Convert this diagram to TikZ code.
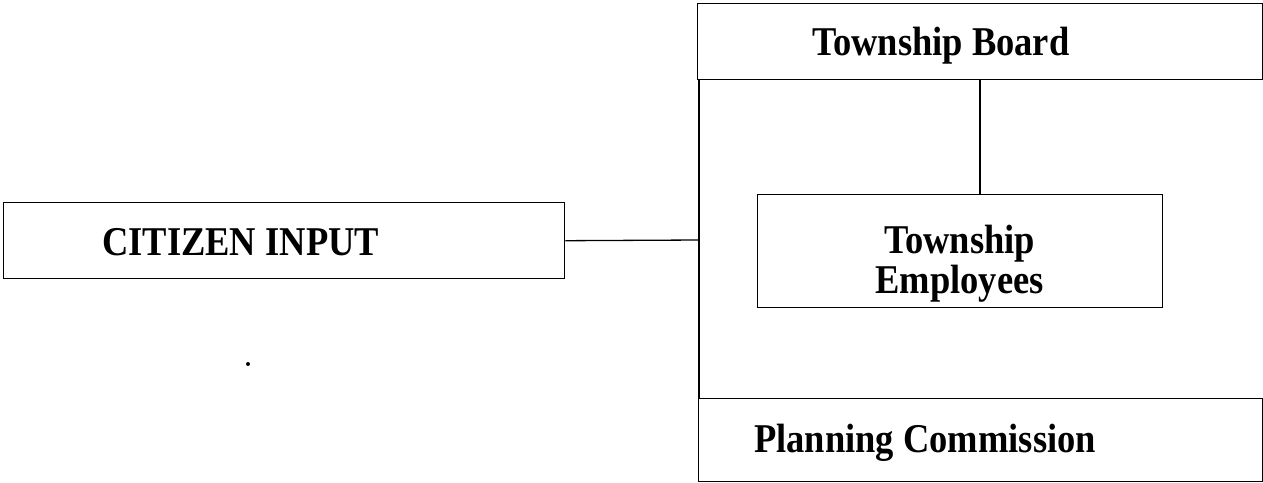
\documentclass[tikz,border=0pt]{standalone}
\usepackage{fontspec}
\setmainfont{Liberation Serif}
\newcommand{\tallt}[1]{\scalebox{1}[1.12]{#1}}
\begin{document}
\begin{tikzpicture}[x=1pt,y=-1pt,
  box/.style={draw=black,line width=1.4pt,rectangle,inner sep=0pt,anchor=north west},
  lbl/.style={inner sep=0pt,font=\fontsize{36.5}{42}\selectfont\bfseries},
  conn/.style={draw=black,line width=1.3pt}]
\useasboundingbox (0,0) rectangle (1263,482);
% boxes
\node[box,minimum width=561pt,minimum height=76pt] (cit) at (3,202) {};
\node[box,minimum width=565pt,minimum height=76pt] (board) at (697,3) {};
\node[box,minimum width=405pt,minimum height=113pt] (emp) at (757,194) {};
\node[box,minimum width=564pt,minimum height=83pt] (plan) at (698,398) {};
% texts
\node[lbl,anchor=base west] (citt) at (102,255) {\tallt{CITIZEN INPUT}};
\node[lbl,anchor=base west] (boardt) at (812,55) {\tallt{Township Board}};
\node[lbl,anchor=base] (empt1) at (959.5,253) {\tallt{Township}};
\node[lbl,anchor=base] (empt2) at (959.5,293) {\tallt{Employees}};
\node[lbl,anchor=base west] (plant) at (754,452) {\tallt{Planning Commission}};
% connectors
\coordinate (xl) at (699,0);
\coordinate (xm) at (980,0);
\coordinate (j) at (699,240);
\draw[conn] (board.south -| xl) -- (plan.north -| xl);
\draw[conn] (cit.east) -- (j);
\draw[conn] (board.south -| xm) -- (emp.north -| xm);
% stray dot
\fill (248,364) circle (2pt);
\end{tikzpicture}
\end{document}
